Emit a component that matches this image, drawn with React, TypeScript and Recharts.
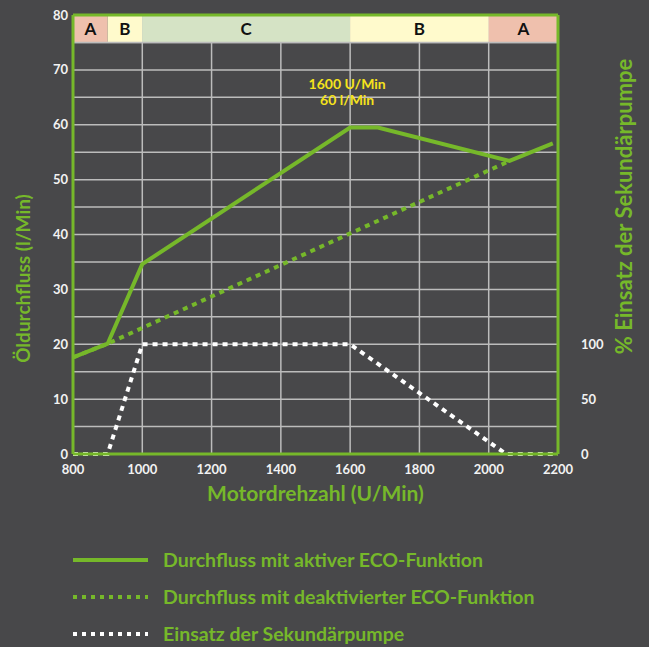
import React from 'react';
import { LineChart, Line, XAxis, YAxis, CartesianGrid, ReferenceArea, ReferenceLine, ReferenceDot, Legend } from 'recharts';

// DATA
const xTicks = [800, 1000, 1200, 1400, 1600, 1800, 2000, 2200];
const leftTicks = [0, 5, 10, 15, 20, 25, 30, 35, 40, 45, 50, 55, 60, 65, 70, 75, 80];
const rightTicks = [0, 50, 100];

const ecoOnRpm = [800, 900, 1000, 1600, 1680, 2060, 2185];
const ecoOnFlow = [17.6, 20.1, 34.6, 59.5, 59.5, 53.4, 56.6];

const ecoOffRpm = [800, 900, 2060];
const ecoOffFlow = [17.6, 20.1, 53.4];

const pumpRpm = [800, 900, 1000, 1600, 2050, 2200];
const pumpPct = [0, 0, 100, 100, 0, 0];

const zoneFrom = [800, 900, 1000, 1600, 2000];
const zoneTo = [900, 1000, 1600, 2000, 2200];
const zoneNames = ['A', 'B', 'C', 'B', 'A'];

const peakLines = ['1600 U/Min', '60 l/Min'];

const seriesNames = [
    'Durchfluss mit aktiver ECO-Funktion',
    'Durchfluss mit deaktivierter ECO-Funktion',
    'Einsatz der Sekundärpumpe',
];

// STYLE
const BG = '#48484a';
const GREEN = '#76b82a';
const GRID = '#bcbcbc';
const TICK = '#f2f2f2';
const FONT = 'Lato, "Open Sans", sans-serif';
const zoneColors: Record<string, string> = { A: '#efc0ad', B: '#fffacc', C: '#d5e3c5' };

const ecoOn = ecoOnRpm.map((rpm, i) => ({ rpm, flow: ecoOnFlow[i] }));
const ecoOff = ecoOffRpm.map((rpm, i) => ({ rpm, flow: ecoOffFlow[i] }));
const pump = pumpRpm.map((rpm, i) => ({ rpm, pct: pumpPct[i] }));

const tickStyle = { fill: TICK, fontSize: 13, fontWeight: 700, fontFamily: FONT };

// LEGEND
const legendRows = [40, 77, 114];

const renderLegend = (props: any) => {
    const items = props.payload || [];
    return (
        <svg width={649} height={127} style={{ display: 'block' }}>
            {items.map((item: any, i: number) => (
                <g key={item.value}>
                    <line
                        x1={73} x2={148} y1={legendRows[i]} y2={legendRows[i]}
                        stroke={item.color} strokeWidth={4}
                        strokeDasharray={i === 0 ? undefined : '4 5'}
                    />
                    <text x={163} y={legendRows[i]} dy="0.35em" fill={GREEN}
                        fontSize={19.5} fontWeight={700} fontFamily={FONT}>
                        {item.value}
                    </text>
                </g>
            ))}
        </svg>
    );
};

// COMPONENT
const App: React.FC = () => {
    return (
        <div style={{ width: 649, height: 647, background: BG }}>
            <style>{`body{margin:0;background:${BG}}`}</style>
            <LineChart width={649} height={647} margin={{ top: 15, right: 21, left: 13, bottom: 6 }}>
                <CartesianGrid yAxisId="l" stroke={GRID} strokeWidth={1.5} />
                <XAxis
                    dataKey="rpm" type="number" domain={[800, 2200]} ticks={xTicks} interval={0}
                    allowDataOverflow axisLine={{ stroke: GREEN, strokeWidth: 3 }} tickLine={false}
                    tickSize={0} tickMargin={11} tick={tickStyle} height={60}
                    label={(p: any) => (
                        <text x={p.viewBox.x + p.viewBox.width / 2} y={p.viewBox.y + 47} textAnchor="middle"
                            fill={GREEN} fontSize={21} fontWeight={700} fontFamily={FONT}>
                            Motordrehzahl (U/Min)
                        </text>
                    )}
                />
                <YAxis
                    yAxisId="l" domain={[0, 80]} ticks={leftTicks} interval={0} width={60}
                    axisLine={{ stroke: GREEN, strokeWidth: 3 }} tickLine={false} tickSize={0} tickMargin={5}
                    tick={tickStyle} tickFormatter={(v: number) => (v % 10 === 0 ? String(v) : '')}
                    label={(p: any) => {
                        const cx = p.viewBox.x + 9;
                        const cy = p.viewBox.y + p.viewBox.height / 2 + 44;
                        return (
                            <text x={cx} y={cy} transform={`rotate(-90 ${cx} ${cy})`} textAnchor="middle"
                                dominantBaseline="central" fill={GREEN} fontSize={19} fontWeight={700} fontFamily={FONT}>
                                Öldurchfluss (l/Min)
                            </text>
                        );
                    }}
                />
                <YAxis
                    yAxisId="r" orientation="right" domain={[0, 400]} ticks={rightTicks} interval={0} width={70}
                    axisLine={{ stroke: GREEN, strokeWidth: 3 }} tickLine={false} tickSize={0} tickMargin={23}
                    tick={tickStyle}
                    label={(p: any) => {
                        const cx = p.viewBox.x + 65;
                        const cy = p.viewBox.y + p.viewBox.height / 2 - 28;
                        return (
                            <text x={cx} y={cy} transform={`rotate(-90 ${cx} ${cy})`} textAnchor="middle"
                                dominantBaseline="central" fill={GREEN} fontSize={22} fontWeight={700} fontFamily={FONT}>
                                % Einsatz der Sekundärpumpe
                            </text>
                        );
                    }}
                />
                {zoneNames.map((z, i) => (
                    <ReferenceArea
                        key={i} yAxisId="l" x1={zoneFrom[i]} x2={zoneTo[i]} y1={75} y2={80}
                        fill={zoneColors[z]} fillOpacity={1} stroke="none" ifOverflow="visible"
                        label={{ value: z, position: 'center', fill: '#111', fontSize: 17, fontWeight: 700, fontFamily: FONT }}
                    />
                ))}
                <ReferenceLine yAxisId="l" y={75} stroke={GRID} strokeWidth={1.5} />
                <ReferenceLine yAxisId="l" y={80} stroke={GREEN} strokeWidth={3} />
                <ReferenceDot
                    yAxisId="l" x={1600} y={66.6} r={0} stroke="none" fill="none"
                    label={(p: any) => (
                        <g fontSize={14} fontWeight={700} fontFamily={FONT} fill="#f5e31c" textAnchor="middle">
                            <text x={p.viewBox.x - 3} y={p.viewBox.y}>{peakLines[0]}</text>
                            <text x={p.viewBox.x - 3} y={p.viewBox.y + 16}>{peakLines[1]}</text>
                        </g>
                    )}
                />
                <Line
                    yAxisId="l" data={ecoOff} dataKey="flow" name={seriesNames[1]} stroke={GREEN}
                    strokeWidth={4} strokeDasharray="5 5" dot={false} isAnimationActive={false}
                />
                <Line
                    yAxisId="l" data={ecoOn} dataKey="flow" name={seriesNames[0]} stroke={GREEN}
                    strokeWidth={4} dot={false} isAnimationActive={false}
                />
                <Line
                    yAxisId="r" data={pump} dataKey="pct" name={seriesNames[2]} stroke="#ffffff"
                    strokeWidth={4} strokeDasharray="5 5" dot={false} isAnimationActive={false}
                />
                <Legend
                    verticalAlign="bottom" height={127}
                    itemSorter={(item: any) => seriesNames.indexOf(item.value)}
                    wrapperStyle={{ left: 0, width: 649, height: 127, bottom: 0 }}
                    content={renderLegend}
                />
            </LineChart>
        </div>
    );
};

export default App;
